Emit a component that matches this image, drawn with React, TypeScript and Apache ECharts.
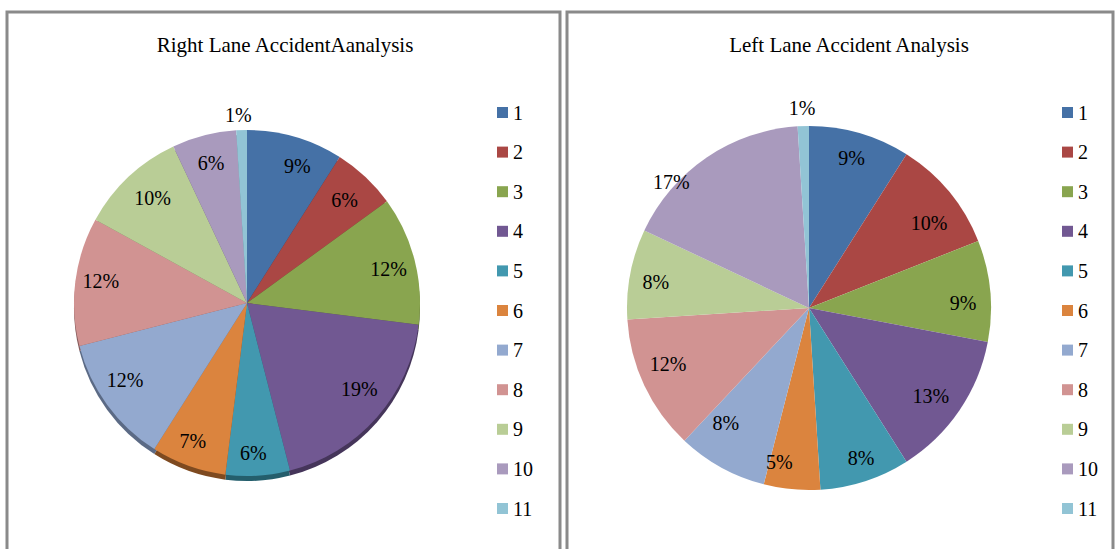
import React, { useEffect, useRef } from "react";
import * as echarts from "echarts";

const categories = ["1", "2", "3", "4", "5", "6", "7", "8", "9", "10", "11"];
const rightLaneValues = [9, 6, 12, 19, 6, 7, 12, 12, 10, 6, 1];
const leftLaneValues = [9, 10, 9, 13, 8, 5, 8, 12, 8, 17, 1];
const rightLaneTitle = "Right Lane AccidentAanalysis";
const leftLaneTitle = "Left Lane Accident Analysis";

const colors = [
  "#4571a6", "#aa4744", "#89a54f", "#715892", "#4298af", "#db843e",
  "#93a9cf", "#d19392", "#b9cd96", "#a99abd", "#92c4d5",
];
const rimColors = [
  "#2a4566", "#682a28", "#55672f", "#45355a", "#245e6c", "#7e4a20",
  "#5b6a85", "#875c5c", "#73815c", "#6a6079", "#5a7f8a",
];

// label nudges (layout only) to mimic the original best-fit placement
const rightLaneLabelOffsets = [
  [9, 5], [-4, 5], [-2, 3], [1, -12], [-3, 2], [-4, -2],
  [-2, -10], [1, -3], [7, 3], [1, 4], [-4, -40],
];
const leftLaneLabelOffsets = [
  [-1, 0], [0, 14], [-1, 10], [-7, 0], [4, 2], [-15, -1],
  [-8, -22], [0, -10], [0, 3], [-50, 3], [-2, -44],
];

const SERIF = "Liberation Serif";

export default function App() {
  const ref = useRef<HTMLDivElement>(null);

  useEffect(() => {
    if (!ref.current) return;
    const chart = echarts.init(ref.current, undefined, { renderer: "svg" });

    const mkData = (vals: number[], cols: string[]) =>
      categories.map((name, i) => ({
        name,
        value: vals[i],
        itemStyle: { color: cols[i] },
      }));

    const labelData = (vals: number[], offsets: number[][]) =>
      categories.map((name, i) => ({
        name,
        value: vals[i],
        label: { offset: offsets[i] },
      }));

    const L = { cx: 247, cy: 303, r: 173 };
    const R = { cx: 809, cy: 308, r: 182 };

    const basePie = {
      type: "pie",
      startAngle: 90,
      clockwise: true,
      avoidLabelOverlap: false,
      label: { show: false },
      labelLine: { show: false },
      emphasis: { disabled: true },
    };

    const labelStyle = {
      show: true,
      position: "inside",
      formatter: "{c}%",
      color: "#000",
      fontFamily: SERIF,
      fontSize: 20,
    };

    const legendBase = {
      orient: "vertical",
      top: 102.5,
      padding: 0,
      itemWidth: 11,
      itemHeight: 11,
      itemGap: 19.6,
      icon: "rect",
      selectedMode: false,
      data: categories,
      textStyle: { fontFamily: SERIF, fontSize: 20, lineHeight: 20, color: "#000" },
    };

    const titleText = { fontFamily: SERIF, fontSize: 21, fontWeight: "normal", color: "#000" };

    chart.setOption({
      animation: false,
      backgroundColor: "#fff",
      title: [
        { text: rightLaneTitle, left: 285, top: 34, padding: 0, textAlign: "center", textStyle: titleText },
        { text: leftLaneTitle, left: 849, top: 34, padding: 0, textAlign: "center", textStyle: titleText },
      ],
      legend: [
        { ...legendBase, left: 497 },
        { ...legendBase, left: 1062 },
      ],
      graphic: [
        {
          type: "rect",
          shape: { x: 7, y: 12, width: 553, height: 600 },
          style: { fill: "none", stroke: "#8a8a8a", lineWidth: 3 },
          silent: true,
          z: 0,
        },
        {
          type: "rect",
          shape: { x: 567, y: 12, width: 546, height: 600 },
          style: { fill: "none", stroke: "#8a8a8a", lineWidth: 3 },
          silent: true,
          z: 0,
        },
      ],
      series: [
        {
          ...basePie,
          name: "Right Lane",
          center: [L.cx, L.cy],
          radius: [0, L.r],
          z: 3,
          data: mkData(rightLaneValues, colors),
        },
        {
          ...basePie,
          name: "Left Lane",
          center: [R.cx, R.cy],
          radius: [0, R.r],
          z: 3,
          data: mkData(leftLaneValues, colors),
        },
        {
          ...basePie,
          name: "Right Lane rim",
          center: [L.cx, L.cy + 5],
          radius: [0, L.r],
          silent: true,
          z: 2,
          data: mkData(rightLaneValues, rimColors),
        },
        {
          ...basePie,
          name: "Right Lane labels",
          center: [L.cx, L.cy],
          radius: [L.r * 0.68, L.r],
          silent: true,
          z: 4,
          itemStyle: { color: "rgba(0,0,0,0)" },
          label: labelStyle,
          data: labelData(rightLaneValues, rightLaneLabelOffsets),
        },
        {
          ...basePie,
          name: "Left Lane labels",
          center: [R.cx, R.cy],
          radius: [R.r * 0.68, R.r],
          silent: true,
          z: 4,
          itemStyle: { color: "rgba(0,0,0,0)" },
          label: labelStyle,
          data: labelData(leftLaneValues, leftLaneLabelOffsets),
        },
      ],
    });

    return () => chart.dispose();
  }, []);

  return (
    <div
      ref={ref}
      style={{ position: "absolute", left: 0, top: 0, width: 1115, height: 549 }}
    />
  );
}
